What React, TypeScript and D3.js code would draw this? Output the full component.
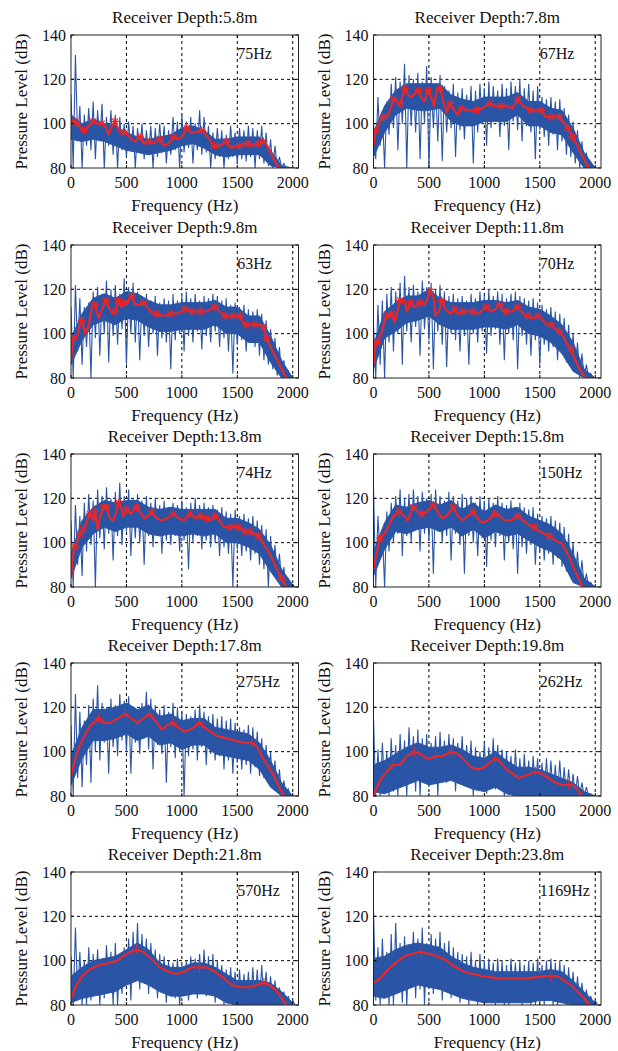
import React from 'react';
import * as d3 from 'd3';

// ---------- data ----------
const DEPTHS = ['5.8', '7.8', '9.8', '11.8', '13.8', '15.8', '17.8', '19.8', '21.8', '23.8'];
const BANDWIDTHS = ['75Hz', '67Hz', '63Hz', '70Hz', '74Hz', '150Hz', '275Hz', '262Hz', '570Hz', '1169Hz'];
const X_TICKS = [0, 500, 1000, 1500, 2000];
const Y_TICKS = [80, 100, 120, 140];
const BIN_HZ = 40;   // spike bins: peak at bin start, trough at bin middle
const CORE_HZ = 100; // dense band of the spectrum, sampled every 100 Hz

// Panel 1 — 5.8 m
const HI_1 = [113,131,108,104,107,110,106,109,103,106,104,103,100,101,99,98,100,97,99,98,100,99,97,103,101,104,101,103,100,106,103,99,96,98,97,95,99,96,98,97,99,98,97,99,96,93,90,85,82,80,80];
const LO_1 = [80,92,80,90,88,84,92,80,90,86,80,88,85,88,80,87,84,86,80,85,87,82,86,88,80,87,89,82,88,86,87,80,84,85,80,84,85,82,84,83,85,80,84,82,81,80,80,80,80,80,80];
const CORE_TOP_1 = [104,100,102,100,99,96,94,93,94,95,98,99,97,93,93,94,94,94,88,81,80];
const CORE_BOT_1 = [93,92,93,92,90,88,87,86,87,88,90,91,89,86,85,86,86,86,81,80,80];
const RED_1 = [[0,101,0],[25,101,1],[60,100,1],[90,98,0],[120,97,1],[160,99,0],[200,101,1],[240,100,0],[277,100,1],[310,99,0],[340,95,0],[370,99,0],[397,101,1],[430,97,0],[472,96,1],[510,95,0],[540,93,0],[580,92,0],[623,94,1],[660,91,0],[707,92,1],[740,91,0],[770,92,0],[803,93,1],[840,90,0],[880,91,0],[923,94,1],[960,93,0],[1000,94,0],[1044,98,1],[1080,96,0],[1120,96,0],[1179,97,1],[1220,95,0],[1260,92,0],[1293,90,1],[1340,90,0],[1370,91,0],[1405,92,1],[1440,89,0],[1480,90,0],[1519,90,1],[1560,91,0],[1600,91,1],[1640,90,0],[1690,91,1],[1735,92,1],[1770,90,0],[1800,87,0],[1830,84,0],[1860,81,0],[1875,80,0]];

// Panel 2 — 7.8 m
const HI_2 = [100,112,106,110,118,121,119,127,122,120,123,119,126,121,118,122,117,115,118,114,116,113,117,115,118,116,119,117,115,118,116,119,117,120,116,118,115,117,112,111,112,110,111,107,104,101,97,92,87,82,80];
const LO_2 = [84,90,80,95,98,88,100,80,99,96,84,100,80,98,92,83,96,98,85,97,93,99,82,96,100,90,98,101,94,99,88,101,97,92,99,96,84,97,94,90,95,88,92,86,85,82,80,80,80,80,80];
const CORE_TOP_2 = [96,108,115,118,118,118,118,113,111,110,112,112,112,114,110,110,107,106,98,87,80];
const CORE_BOT_2 = [85,96,104,107,106,106,107,101,99,99,101,101,101,104,99,99,96,95,87,80,80];
const RED_2 = [[0,90,0],[20,97,1],[60,101,0],[90,103,1],[120,103,0],[150,106,0],[180,111,1],[210,110,0],[240,109,1],[260,112,0],[285,116,1],[310,113,0],[340,112,0],[404,115,1],[430,112,0],[460,110,0],[494,115,1],[520,112,0],[545,108,0],[570,115,0],[600,116,1],[630,110,0],[660,105,0],[690,109,1],[730,106,0],[760,104,0],[793,107,1],[850,106,0],[928,106,1],[980,107,0],[1048,109,1],[1100,108,0],[1153,108,1],[1200,108,0],[1250,107,0],[1302,111,1],[1350,108,0],[1422,106,1],[1470,106,0],[1512,106,1],[1550,103,0],[1602,103,1],[1640,103,0],[1677,103,1],[1720,100,0],[1751,98,1],[1796,94,1],[1830,91,0],[1870,87,0],[1910,83,0],[1940,80,0]];

// Panel 3 — 9.8 m
const HI_3 = [112,122,116,112,114,119,121,118,124,120,122,118,125,121,123,119,117,118,115,117,114,116,115,118,115,117,119,116,118,115,117,116,118,117,115,116,113,114,112,113,111,110,111,109,106,102,98,94,88,83,80];
const LO_3 = [80,92,86,94,80,98,90,100,87,99,95,102,86,100,96,88,99,94,100,90,98,96,84,97,100,92,99,96,101,93,99,96,101,94,98,92,82,95,97,92,96,94,90,88,86,84,81,80,80,80,80];
const CORE_TOP_3 = [98,109,116,118,116,119,118,115,113,113,114,114,114,115,112,112,108,108,99,88,80];
const CORE_BOT_3 = [86,97,104,106,104,107,106,103,101,101,102,102,102,104,100,100,96,96,87,80,80];
const RED_3 = [[0,88,0],[21,98,1],[50,98,0],[80,104,0],[96,106,1],[130,100,0],[160,104,0],[190,112,0],[216,113,1],[250,107,0],[280,111,0],[316,115,1],[350,111,0],[375,109,0],[397,110,1],[427,115,1],[450,112,0],[487,114,1],[520,115,0],[547,117,1],[580,113,0],[620,113,0],[653,114,1],[700,111,0],[740,109,0],[773,109,1],[830,108,0],[893,109,1],[950,109,0],[1000,110,0],[1029,111,1],[1089,110,1],[1130,110,0],[1164,110,1],[1220,110,0],[1260,111,0],[1299,112,1],[1340,110,0],[1389,108,1],[1430,108,0],[1465,108,1],[1525,108,1],[1550,105,0],[1585,104,1],[1620,104,0],[1660,104,1],[1700,104,0],[1735,103,1],[1765,98,1],[1800,94,0],[1840,90,0],[1880,86,0],[1920,82,0],[1945,80,0]];

// Panel 4 — 11.8 m
const HI_4 = [104,113,115,118,121,119,123,126,121,122,119,124,121,123,120,122,119,117,118,116,117,115,118,116,119,117,120,117,119,118,116,118,119,117,116,115,116,114,113,111,112,110,109,107,104,100,96,91,86,82,80];
const LO_4 = [80,86,80,96,92,100,86,101,96,103,90,102,97,84,101,95,85,100,97,92,99,86,100,96,101,91,99,102,95,88,100,97,84,99,95,90,97,86,95,92,94,88,91,87,85,83,80,80,80,80,80];
const CORE_TOP_4 = [95,110,114,117,117,120,116,114,114,114,115,115,114,115,112,111,108,104,96,84,80];
const CORE_BOT_4 = [84,98,101,105,106,108,104,102,102,102,103,103,102,104,100,99,96,91,83,80,80];
const RED_4 = [[0,86,0],[15,94,0],[30,96,1],[70,100,0],[100,106,0],[120,108,1],[150,108,0],[165,109,1],[190,105,0],[215,110,0],[240,115,1],[280,115,0],[300,110,0],[330,114,1],[370,112,0],[420,114,1],[460,113,0],[490,116,0],[510,119,1],[540,117,0],[560,108,0],[590,110,0],[615,115,1],[650,111,0],[690,109,0],[733,111,1],[770,109,0],[808,110,1],[860,110,0],[898,110,1],[950,109,0],[990,111,0],[1018,112,1],[1060,110,0],[1100,111,0],[1138,113,1],[1170,110,0],[1198,110,1],[1250,110,0],[1302,112,1],[1350,109,0],[1392,108,1],[1440,107,0],[1482,108,1],[1530,106,0],[1560,104,0],[1602,104,1],[1640,102,0],[1677,101,1],[1720,98,0],[1750,95,0],[1781,93,1],[1820,88,0],[1860,84,0],[1900,81,0],[1915,80,0]];

// Panel 5 — 13.8 m
const HI_5 = [110,117,112,118,122,119,124,121,125,120,123,127,121,124,120,122,119,121,118,120,117,119,116,118,117,119,116,118,120,117,118,116,117,115,116,114,113,115,112,113,111,112,110,108,106,103,99,95,89,84,81];
const LO_5 = [80,90,85,96,99,80,102,97,104,92,103,99,105,94,102,100,90,103,98,104,95,101,99,103,96,101,88,100,103,97,101,98,100,94,98,95,80,97,94,96,92,95,90,88,80,86,84,82,80,80,80];
const CORE_TOP_5 = [95,110,116,119,118,119,119,116,115,116,115,115,115,115,111,111,109,106,99,88,81];
const CORE_BOT_5 = [84,98,104,107,105,107,107,104,103,104,103,104,103,104,100,100,98,95,87,80,80];
const RED_5 = [[0,84,0],[20,95,0],[36,98,1],[60,101,0],[81,104,1],[111,106,1],[140,109,0],[171,113,1],[200,110,0],[216,114,1],[240,106,0],[260,111,0],[292,116,1],[322,116,1],[350,111,0],[380,110,0],[410,114,0],[427,118,1],[450,116,0],[470,112,0],[502,115,1],[540,113,0],[570,115,0],[592,116,1],[620,114,0],[660,111,0],[700,112,0],[728,114,1],[770,111,0],[820,110,0],[870,111,0],[923,113,1],[970,111,0],[1020,110,0],[1074,113,1],[1120,111,0],[1164,112,1],[1200,111,0],[1224,111,1],[1260,110,0],[1299,112,1],[1340,110,0],[1380,107,0],[1434,107,1],[1470,107,0],[1510,107,1],[1540,106,0],[1570,105,1],[1615,105,1],[1650,104,0],[1690,103,1],[1730,100,0],[1780,96,0],[1830,91,0],[1870,87,0],[1900,84,1],[1930,81,0],[1945,80,0]];

// Panel 6 — 15.8 m
const HI_6 = [125,112,106,114,118,121,124,120,122,124,121,123,120,122,124,121,119,123,121,119,122,120,121,118,121,119,120,118,121,118,117,119,116,118,116,115,116,113,112,111,112,110,109,107,104,100,96,92,86,82,80];
const LO_6 = [80,94,80,96,100,104,94,103,100,106,96,104,101,86,105,100,103,92,104,99,86,103,100,94,102,89,101,98,103,92,100,97,86,98,95,99,90,96,92,95,90,93,89,87,85,83,81,80,80,80,80];
const CORE_TOP_6 = [96,109,117,116,118,119,117,119,115,118,114,117,115,116,112,110,108,104,95,84,80];
const CORE_BOT_6 = [85,97,105,104,106,107,105,107,103,106,102,105,103,104,101,98,96,92,82,80,80];
const RED_6 = [[0,88,0],[30,96,0],[60,102,1],[100,104,0],[140,108,0],[180,112,0],[230,114,1],[280,112,0],[310,110,0],[340,114,0],[360,116,1],[400,114,0],[435,113,1],[480,114,0],[540,117,1],[580,114,0],[620,111,0],[660,112,0],[719,116,1],[760,112,0],[800,110,0],[850,112,0],[898,114,1],[940,111,0],[980,109,0],[1030,110,0],[1093,113,1],[1140,112,0],[1180,110,0],[1240,110,0],[1302,112,1],[1350,110,0],[1400,108,0],[1452,107,1],[1500,105,0],[1540,104,0],[1587,103,1],[1640,101,0],[1690,100,0],[1730,97,0],[1770,93,0],[1810,88,0],[1850,84,0],[1885,80,0]];

// Panel 7 — 17.8 m
const HI_7 = [112,126,118,114,121,124,130,122,120,124,121,126,123,125,120,118,122,127,124,121,119,121,118,122,120,118,117,116,119,121,118,116,117,115,116,114,115,113,111,110,112,111,109,106,103,100,96,92,87,83,80];
const LO_7 = [80,88,84,94,86,100,96,104,90,102,98,105,100,90,104,99,106,101,92,103,99,86,102,97,100,80,98,101,96,102,94,99,96,98,92,96,90,95,92,94,90,93,89,88,86,84,82,80,80,80,80];
const CORE_TOP_7 = [98,111,119,119,120,122,119,121,116,117,114,115,115,111,110,109,108,104,96,86,80];
const CORE_BOT_7 = [85,97,105,105,106,108,105,107,103,104,101,103,103,99,98,97,96,92,84,80,80];
const RED_7 = [[0,89,0],[40,97,0],[80,103,0],[130,108,0],[180,112,0],[250,115,1],[300,113,0],[360,113,0],[420,115,0],[490,117,1],[540,115,0],[600,113,0],[650,115,0],[710,117,1],[760,114,0],[820,110,0],[870,112,0],[920,113,1],[970,111,0],[1020,109,0],[1080,110,0],[1160,113,1],[1200,111,0],[1260,109,0],[1320,107,0],[1400,106,0],[1480,105,0],[1560,104,0],[1630,104,1],[1680,102,0],[1720,98,0],[1770,94,0],[1820,90,0],[1870,85,0],[1910,81,0],[1922,80,0]];

// Panel 8 — 19.8 m
const HI_8 = [115,101,104,100,106,103,108,105,111,107,110,106,108,104,107,109,105,108,106,104,107,103,105,102,100,104,102,106,103,101,100,98,101,97,99,96,98,97,95,97,96,94,96,93,92,90,89,86,84,81,80];
const LO_8 = [80,80,84,80,82,80,86,80,88,82,80,90,84,88,80,91,86,89,82,90,85,88,80,84,86,81,85,83,87,80,82,80,83,80,81,80,82,80,80,81,80,80,80,80,80,80,80,80,80,80,80];
const CORE_TOP_8 = [94,96,99,102,104,102,102,103,101,98,97,100,96,93,93,92,90,88,86,82,80];
const CORE_BOT_8 = [82,81,83,85,87,85,86,87,85,83,82,84,81,80,80,80,80,80,80,80,80];
const RED_8 = [[0,80,0],[30,84,0],[70,88,0],[120,91,0],[180,94,1],[240,94,0],[300,98,0],[370,100,1],[420,99,0],[480,97,0],[520,97,0],[560,98,1],[620,98,0],[700,100,1],[760,99,0],[820,96,0],[880,93,0],[940,92,0],[1000,93,0],[1050,95,0],[1100,97,1],[1150,95,0],[1200,92,0],[1260,90,0],[1310,88,0],[1360,89,0],[1420,90,0],[1460,91,1],[1520,90,0],[1580,88,0],[1640,86,0],[1700,85,0],[1760,85,1],[1800,85,0],[1840,83,0],[1880,80,0]];

// Panel 9 — 21.8 m
const HI_9 = [102,115,104,100,106,103,105,101,107,104,108,103,106,110,113,117,112,110,108,105,103,102,100,99,101,98,100,102,101,103,105,102,103,100,98,96,97,95,96,94,95,97,96,98,95,93,91,88,86,84,82];
const LO_9 = [80,84,80,80,82,85,80,83,87,80,80,85,89,82,91,87,93,85,90,83,87,81,85,83,80,84,82,86,83,87,84,86,81,83,80,81,80,80,80,80,80,81,80,82,80,80,80,80,80,80,80];
const CORE_TOP_9 = [93,97,100,101,102,105,108,105,99,97,97,99,99,97,94,91,91,91,90,86,81];
const CORE_BOT_9 = [81,83,84,85,86,89,91,89,86,84,84,85,85,84,81,80,80,80,80,80,80];
const RED_9 = [[0,83,0],[50,89,0],[100,93,0],[170,96,0],[250,98,0],[350,99,0],[420,100,0],[500,103,0],[590,105,1],[650,104,0],[720,101,0],[800,97,0],[880,95,0],[950,94,0],[1020,95,0],[1090,97,0],[1160,97,1],[1220,97,0],[1300,95,0],[1380,92,0],[1450,89,0],[1520,88,0],[1600,88,0],[1680,89,0],[1740,90,1],[1790,89,0],[1840,87,0],[1890,84,0],[1930,81,0],[1945,80,0]];

// Panel 10 — 23.8 m
const HI_10 = [123,106,110,104,112,117,108,111,106,113,110,115,108,112,110,113,108,109,106,104,103,102,104,100,103,100,101,99,101,100,98,101,99,100,98,100,99,101,98,100,101,99,100,98,97,95,93,90,87,84,82];
const LO_10 = [82,80,85,80,80,87,81,80,89,83,87,80,91,85,88,82,89,83,86,81,84,80,83,80,82,81,83,80,82,80,80,83,81,80,82,80,80,81,80,82,80,80,81,80,80,80,80,80,80,80,80];
const CORE_TOP_10 = [101,102,105,107,108,107,106,102,99,97,96,95,95,95,95,95,96,95,91,86,81];
const CORE_BOT_10 = [84,83,85,87,89,88,87,85,83,82,81,81,81,81,81,82,82,81,80,80,80];
const RED_10 = [[0,90,0],[60,92,0],[130,96,0],[200,99,0],[280,102,0],[350,103,0],[430,104,1],[500,103,0],[580,102,0],[660,100,0],[740,97,0],[820,95,0],[900,94,0],[980,93,0],[1060,92.5,0],[1140,92,0],[1220,92,0],[1300,92,0],[1380,92,0],[1460,92.5,0],[1540,93,0],[1600,93,1],[1660,93,0],[1720,91,0],[1780,89,0],[1840,86,0],[1900,83,0],[1950,80,0]];

const HIS = [HI_1, HI_2, HI_3, HI_4, HI_5, HI_6, HI_7, HI_8, HI_9, HI_10];
const LOS = [LO_1, LO_2, LO_3, LO_4, LO_5, LO_6, LO_7, LO_8, LO_9, LO_10];
const CORE_TOPS = [CORE_TOP_1, CORE_TOP_2, CORE_TOP_3, CORE_TOP_4, CORE_TOP_5, CORE_TOP_6, CORE_TOP_7, CORE_TOP_8, CORE_TOP_9, CORE_TOP_10];
const CORE_BOTS = [CORE_BOT_1, CORE_BOT_2, CORE_BOT_3, CORE_BOT_4, CORE_BOT_5, CORE_BOT_6, CORE_BOT_7, CORE_BOT_8, CORE_BOT_9, CORE_BOT_10];
const REDS = [RED_1, RED_2, RED_3, RED_4, RED_5, RED_6, RED_7, RED_8, RED_9, RED_10];
const STAR_MARKER = [true, true, true, true, true, true, false, false, false, false];

// ---------- layout ----------
const W = 618;
const H = 1051;
const COL_X = [71, 373.5];
const PLOT_W = 227.5;
const ROW_Y = [35, 245, 454, 663, 872];
const PLOT_H = 133;
const X_MAX = 2052;
const BLUE = '#2a55a6';
const RED = '#e8272a';
const FONT = "'Liberation Serif', 'Times New Roman', serif";

function Panel({ idx }: { idx: number }) {
  const col = idx % 2;
  const row = Math.floor(idx / 2);
  const x0 = COL_X[col];
  const y0 = ROW_Y[row];
  const x = d3.scaleLinear().domain([0, X_MAX]).range([x0, x0 + PLOT_W]);
  const y = d3.scaleLinear().domain([80, 140]).range([y0 + PLOT_H, y0]);
  const hi = HIS[idx];
  const lo = LOS[idx];
  const pts: [number, number][] = [];
  hi.forEach((h, i) => {
    pts.push([i * BIN_HZ, h]);
    if (i < lo.length) pts.push([i * BIN_HZ + BIN_HZ / 2, lo[i]]);
  });
  const line = d3.line<[number, number]>().x(d => x(d[0])).y(d => y(d[1]));
  const coreTop = CORE_TOPS[idx];
  const coreBot = CORE_BOTS[idx];
  const area = d3
    .area<number>()
    .x((_, i) => x(i * CORE_HZ))
    .y0((_, i) => y(coreBot[i]))
    .y1(d => y(d));
  const red = REDS[idx] as number[][];
  const redLine = d3.line<number[]>().x(d => x(d[0])).y(d => y(d[1]));
  const clipId = `clip${idx}`;
  const cx = x0 + PLOT_W / 2;
  const bottom = y0 + PLOT_H;
  const star = STAR_MARKER[idx];
  return (
    <g>
      <defs>
        <clipPath id={clipId}>
          <rect x={x0} y={y0} width={PLOT_W} height={PLOT_H} />
        </clipPath>
      </defs>
      <rect x={x0} y={y0} width={PLOT_W} height={PLOT_H} fill="#fff" />
      {/* grid */}
      {X_TICKS.filter(t => t > 0).map(t => (
        <line key={'gx' + t} x1={x(t)} x2={x(t)} y1={y0} y2={bottom} stroke="#000" strokeWidth={1} strokeDasharray="3,3" />
      ))}
      {Y_TICKS.filter(t => t > 80 && t < 140).map(t => (
        <line key={'gy' + t} x1={x0} x2={x0 + PLOT_W} y1={y(t)} y2={y(t)} stroke="#000" strokeWidth={1} strokeDasharray="3,3" />
      ))}
      <g clipPath={`url(#${clipId})`}>
        <path d={area(coreTop) || ''} fill={BLUE} stroke={BLUE} strokeWidth={1} />
        <path d={line(pts) || ''} fill="none" stroke={BLUE} strokeWidth={1.1} strokeLinejoin="miter" />
        <path d={redLine(red) || ''} fill="none" stroke={RED} strokeWidth={2.2} strokeLinejoin="round" />
        {red.filter(d => d[2] === 1).map((d, k) => {
          const px = x(d[0]);
          const py = y(d[1]);
          return star ? (
            <g key={k} stroke={RED} strokeWidth={1.2}>
              <line x1={px - 4} x2={px + 4} y1={py} y2={py} />
              <line x1={px} x2={px} y1={py - 4} y2={py + 4} />
              <line x1={px - 3} x2={px + 3} y1={py - 3} y2={py + 3} />
              <line x1={px - 3} x2={px + 3} y1={py + 3} y2={py - 3} />
            </g>
          ) : (
            <g key={k} stroke={RED} strokeWidth={1}>
              <line x1={px - 4} x2={px + 4} y1={py} y2={py} />
              <line x1={px} x2={px} y1={py - 5} y2={py + 5} />
            </g>
          );
        })}
      </g>
      {/* ticks */}
      {X_TICKS.map(t => (
        <g key={'tx' + t}>
          <line x1={x(t)} x2={x(t)} y1={bottom} y2={bottom - 3} stroke="#000" />
          <line x1={x(t)} x2={x(t)} y1={y0} y2={y0 + 3} stroke="#000" />
        </g>
      ))}
      {Y_TICKS.map(t => (
        <g key={'ty' + t}>
          <line x1={x0} x2={x0 + 3} y1={y(t)} y2={y(t)} stroke="#000" />
          <line x1={x0 + PLOT_W} x2={x0 + PLOT_W - 3} y1={y(t)} y2={y(t)} stroke="#000" />
        </g>
      ))}
      <rect x={x0} y={y0} width={PLOT_W} height={PLOT_H} fill="none" stroke="#222" strokeWidth={1} />
      {/* labels */}
      <text x={x(1500)} y={y(129)} fontSize={16} fontFamily={FONT} fill="#111">{BANDWIDTHS[idx]}</text>
      {X_TICKS.map(t => (
        <text key={'lx' + t} x={x(t)} y={bottom + 20} fontSize={16} fontFamily={FONT} textAnchor="middle" fill="#111">{t}</text>
      ))}
      {Y_TICKS.map(t => (
        <text key={'ly' + t} x={x0 - 5} y={y(t) + 5.5} fontSize={16} fontFamily={FONT} textAnchor="end" fill="#111">{t}</text>
      ))}
      <text x={cx} y={bottom + 43} fontSize={17} fontFamily={FONT} textAnchor="middle" fill="#111">Frequency (Hz)</text>
      <text x={cx} y={y0 - 12} fontSize={17} fontFamily={FONT} textAnchor="middle" fill="#111">{`Receiver Depth:${DEPTHS[idx]}m`}</text>
      <text transform={`translate(${x0 - 44},${y0 + PLOT_H / 2}) rotate(-90)`} fontSize={17} fontFamily={FONT} textAnchor="middle" fill="#111">Pressure Level (dB)</text>
    </g>
  );
}

export default function App() {
  return (
    <svg width={W} height={H} viewBox={`0 0 ${W} ${H}`} style={{ position: 'absolute', left: 0, top: 0, background: '#fff' }}>
      <rect width={W} height={H} fill="#fff" />
      {DEPTHS.map((_, i) => (
        <Panel key={i} idx={i} />
      ))}
    </svg>
  );
}
